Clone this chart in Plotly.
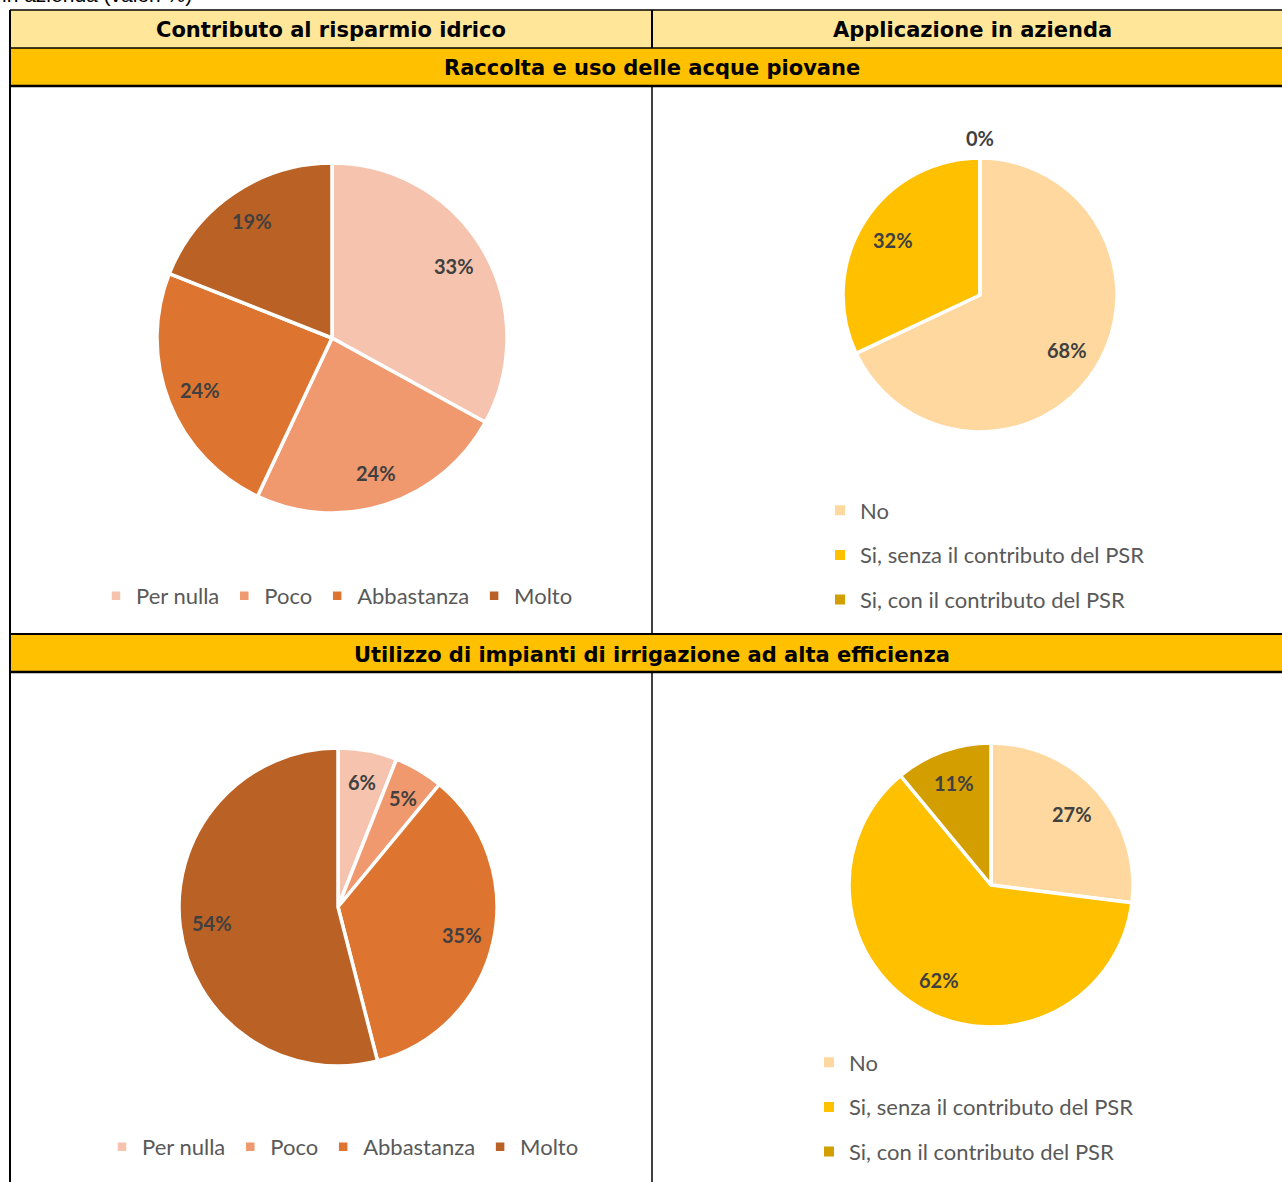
import math
import plotly.graph_objects as go

# --- data -------------------------------------------------------------
contrib_labels = ["Per nulla", "Poco", "Abbastanza", "Molto"]
applic_labels = ["No", "Si, senza il contributo del PSR", "Si, con il contributo del PSR"]

rain_contrib = [33, 24, 24, 19]      # Raccolta e uso delle acque piovane
rain_applic = [68, 32, 0]
irrig_contrib = [6, 5, 35, 54]       # Utilizzo di impianti di irrigazione ad alta efficienza
irrig_applic = [27, 62, 11]

col_headers = ["Contributo al risparmio idrico", "Applicazione in azienda"]
row_headers = ["Raccolta e uso delle acque piovane",
               "Utilizzo di impianti di irrigazione ad alta efficienza"]

contrib_colors = ["#F5C3AE", "#F0986E", "#DD7430", "#BA6125"]
applic_colors = ["#FFD89F", "#FFC000", "#D29E00"]

W, H = 1282, 1182


def fx(x):
    return x / W


def fy(y):
    return 1 - y / H


LABEL_FONT = dict(family="Lato", size=20, color="#404040", weight="bold")
LEGEND_FONT = dict(family="Lato", size=22, color="#595959")
HEADER_FONT = dict(family="DejaVu Sans", size=21, color="#000000", weight="bold")

fig = go.Figure()
annotations = []


def add_pie(values, labels, colors, cx, cy, r, label_frac, legend, legendgroup,
            showlegend=True):
    fig.add_trace(go.Pie(
        values=values, labels=labels, sort=False, direction="clockwise", rotation=0,
        marker=dict(colors=colors, line=dict(color="white", width=3.5)),
        textinfo="none", domain=dict(x=[fx(cx - r), fx(cx + r)], y=[fy(cy + r), fy(cy - r)]),
        legend=legend, legendgroup=legendgroup, showlegend=showlegend,
        hoverinfo="label+percent",
    ))
    # value labels along each slice's mid-angle (clockwise from 12 o'clock)
    total = sum(values)
    cum = 0
    for v in values:
        mid = (cum + v / 2) / total * 2 * math.pi
        cum += v
        if v == 0:
            rr = r + 6
            ann = dict(xanchor="center", yanchor="bottom")
        else:
            rr = r * label_frac
            ann = dict(xanchor="center", yanchor="middle")
        ann.update(text=f"{v}%", x=fx(cx + rr * math.sin(mid)), y=fy(cy - rr * math.cos(mid)),
                   xref="paper", yref="paper", showarrow=False, font=LABEL_FONT)
        annotations.append(ann)


def add_legend_entries(labels, colors, legend):
    # one entry (and group) per category so the vertical legend rows can be spaced out
    for i, (lab, col) in enumerate(zip(labels, colors)):
        fig.add_trace(go.Scatter(
            x=[None], y=[None], mode="markers", name=lab, legend=legend,
            legendgroup=f"{legend}-{i}",
            marker=dict(symbol="square", size=10, color=col), hoverinfo="skip",
        ))


add_pie(rain_contrib, contrib_labels, contrib_colors, 332, 338, 175, 0.81, "legend", "rain")
add_pie(rain_applic, applic_labels, applic_colors, 980, 295, 137, 0.75, "legend2", "rain_a",
        showlegend=False)
add_pie(irrig_contrib, contrib_labels, contrib_colors, 338, 907, 159, 0.80, "legend3", "irrig")
add_pie(irrig_applic, applic_labels, applic_colors, 991, 885, 142, 0.76, "legend4", "irrig_a",
        showlegend=False)
add_legend_entries(applic_labels, applic_colors, "legend2")
add_legend_entries(applic_labels, applic_colors, "legend4")

# --- table grid ---------------------------------------------------------
shapes = []


def rect(x0, y0, x1, y1, fill):
    shapes.append(dict(type="rect", xref="paper", yref="paper",
                       x0=fx(x0), x1=fx(x1), y0=fy(y1), y1=fy(y0),
                       fillcolor=fill, line=dict(width=0), layer="below"))


def hline(y, x0, x1, w=2):
    shapes.append(dict(type="line", xref="paper", yref="paper",
                       x0=fx(x0), x1=fx(x1), y0=fy(y), y1=fy(y),
                       line=dict(color="black", width=w)))


def vline(x, y0, y1, w=2):
    shapes.append(dict(type="line", xref="paper", yref="paper",
                       x0=fx(x), x1=fx(x), y0=fy(y0), y1=fy(y1),
                       line=dict(color="black", width=w)))


rect(10, 10, 1282, 48, "#FFE699")
rect(10, 48, 1282, 86, "#FFC000")
rect(10, 634, 1282, 672, "#FFC000")
hline(10, 10, 1282, 1.5)
hline(48, 10, 1282, 1.5)
hline(86, 10, 1282, 2.5)
hline(634, 10, 1282, 2)
hline(672, 10, 1282, 2.5)
vline(10, 10, 1182, 2)
vline(652, 10, 48, 2)
vline(652, 86, 634, 1.5)
vline(652, 672, 1182, 1.5)


def header(text, x, y):
    annotations.append(dict(text=text, x=fx(x), y=fy(y), xref="paper", yref="paper",
                            xanchor="center", yanchor="middle", showarrow=False,
                            font=HEADER_FONT))


annotations.append(dict(text="in azienda (valori %)", x=fx(0), y=fy(8), xref="paper",
                        yref="paper", xanchor="left", yanchor="bottom", showarrow=False,
                        font=dict(family="Liberation Sans", size=21, color="#000000")))
header(col_headers[0], 331, 30)
header(col_headers[1], 972, 30)
header(row_headers[0], 652, 68)
header(row_headers[1], 652, 655)

fig.update_layout(
    width=W, height=H, margin=dict(l=0, r=0, t=0, b=0),
    paper_bgcolor="white", plot_bgcolor="rgba(0,0,0,0)",
    xaxis=dict(visible=False), yaxis=dict(visible=False),
    shapes=shapes, annotations=annotations,
    legend=dict(orientation="h", x=fx(337), y=fy(596), xanchor="center", yanchor="middle",
                traceorder="normal", font=LEGEND_FONT, bgcolor="rgba(0,0,0,0)"),
    legend2=dict(orientation="v", x=fx(820), y=fy(555), xanchor="left", yanchor="middle",
                 font=LEGEND_FONT, traceorder="grouped", tracegroupgap=13,
                 bgcolor="rgba(0,0,0,0)"),
    legend3=dict(orientation="h", x=fx(343), y=fy(1147), xanchor="center", yanchor="middle",
                 traceorder="normal", font=LEGEND_FONT, bgcolor="rgba(0,0,0,0)"),
    legend4=dict(orientation="v", x=fx(809), y=fy(1107), xanchor="left", yanchor="middle",
                 font=LEGEND_FONT, traceorder="grouped", tracegroupgap=13,
                 bgcolor="rgba(0,0,0,0)"),
)

fig.write_html("out.html")
